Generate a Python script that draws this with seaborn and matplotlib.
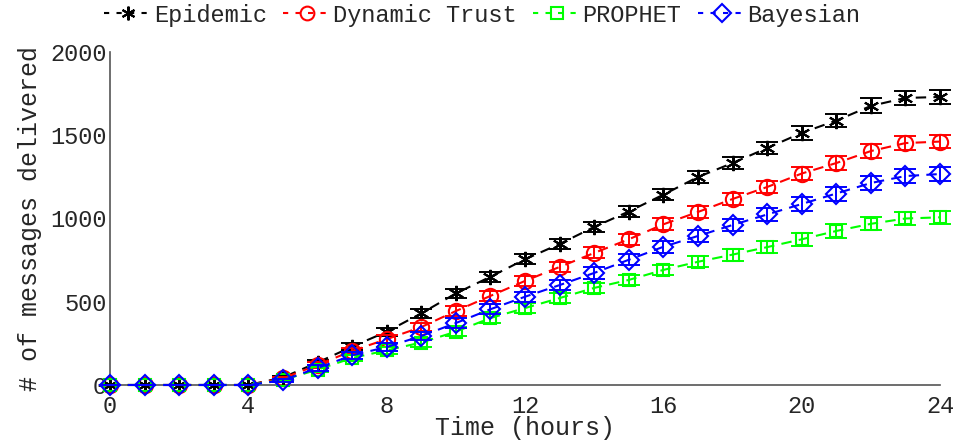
import numpy as np
import pandas as pd
import matplotlib
matplotlib.use("Agg")
import matplotlib.pyplot as plt
import seaborn as sns
from matplotlib.lines import Line2D

hours = list(range(0, 25))
series_names = ["Epidemic", "Dynamic Trust", "PROPHET", "Bayesian"]

epidemic = [0, 0, 0, 0, 0, 45, 135, 230, 320, 430, 550, 650, 755, 847, 949, 1042, 1143, 1249, 1333, 1423, 1514, 1588, 1676, 1724, 1730]
dynamic_trust = [0, 0, 0, 0, 0, 40, 120, 205, 275, 348, 444, 535, 625, 709, 793, 875, 965, 1039, 1117, 1189, 1270, 1333, 1405, 1453, 1462]
prophet = [0, 0, 0, 0, 0, 30, 92, 162, 208, 255, 320, 402, 462, 522, 583, 631, 691, 740, 783, 828, 875, 925, 968, 1000, 1007]
bayesian = [0, 0, 0, 0, 0, 28, 102, 178, 228, 294, 372, 455, 530, 600, 673, 752, 830, 895, 961, 1024, 1087, 1150, 1213, 1255, 1267]

epidemic_err = [0, 0, 0, 0, 0, 10, 18, 22, 25, 28, 28, 30, 30, 32, 32, 33, 34, 36, 38, 38, 40, 40, 45, 42, 40]
dynamic_trust_err = [0, 0, 0, 0, 0, 10, 16, 20, 24, 26, 28, 30, 30, 32, 33, 34, 35, 36, 38, 38, 40, 40, 42, 40, 40]
prophet_err = [0, 0, 0, 0, 0, 8, 14, 18, 22, 24, 26, 28, 28, 30, 30, 32, 32, 34, 36, 36, 38, 40, 40, 40, 40]
bayesian_err = [0, 0, 0, 0, 0, 10, 16, 20, 24, 26, 28, 30, 30, 32, 34, 34, 36, 38, 38, 40, 40, 42, 42, 40, 40]

colors = ["#000000", "#ff0000", "#00ff00", "#0000ff"]
markers = [(6, 2, 0), "o", "s", "D"]
msizes = [11, 11, 9, 10]

sns.set_theme(style="white")
plt.rcParams["font.family"] = ["Liberation Mono", "DejaVu Sans Mono"]
plt.rcParams["font.size"] = 17

fig = plt.figure(figsize=(9.59, 4.46), dpi=100)
ax = fig.add_axes([0.1147, 0.1368, 0.9802 - 0.1147, 0.8834 - 0.1368])

values = [epidemic, dynamic_trust, prophet, bayesian]
errs = [epidemic_err, dynamic_trust_err, prophet_err, bayesian_err]

handles = []
for name, vals, err, c, m, ms in zip(series_names, values, errs, colors, markers, msizes):
    df = pd.DataFrame({"hours": hours, "delivered": vals})
    sns.lineplot(data=df, x="hours", y="delivered", ax=ax, color=c,
                 linestyle=(0, (5, 3.5)), linewidth=1.5, marker=m,
                 markersize=ms, markerfacecolor="none", markeredgecolor=c,
                 markeredgewidth=1.5, clip_on=False, zorder=3)
    ax.errorbar(hours, vals, yerr=err, fmt="none", ecolor=c, elinewidth=1.4,
                capsize=8, capthick=1.4, clip_on=False, zorder=3)
    handles.append(Line2D([0], [0], color=c, linestyle=(0, (2.5, 3.5)), linewidth=1.5,
                          marker=m, markersize=ms * 0.9, markerfacecolor="none",
                          markeredgecolor=c, markeredgewidth=1.5, label=name))

ax.set_xlim(0, 24)
ax.set_ylim(0, 2000)
ax.set_xticks([0, 4, 8, 12, 16, 20, 24])
ax.set_yticks([0, 500, 1000, 1500, 2000])
ax.set_xlabel("Time (hours)", color="#262626", fontsize=18, labelpad=-1)
ax.set_ylabel("# of messages delivered", color="#262626", fontsize=18, labelpad=6)
ax.tick_params(axis="both", direction="in", length=6, width=1, colors="#555555",
               labelcolor="#262626", labelsize=17)
ax.tick_params(axis="x", pad=7)
ax.tick_params(axis="y", pad=2)

for side in ["top", "right"]:
    ax.spines[side].set_visible(False)
for side in ["left", "bottom"]:
    ax.spines[side].set_color("#555555")
    ax.spines[side].set_linewidth(1.2)

fig.legend(handles=handles, loc="center", bbox_to_anchor=(0.503, 0.966), ncol=4,
           frameon=False, handlelength=2.0, handletextpad=0.1, columnspacing=0.7,
           fontsize=17, borderaxespad=0, borderpad=0)

fig.savefig("out.png", dpi=100)
